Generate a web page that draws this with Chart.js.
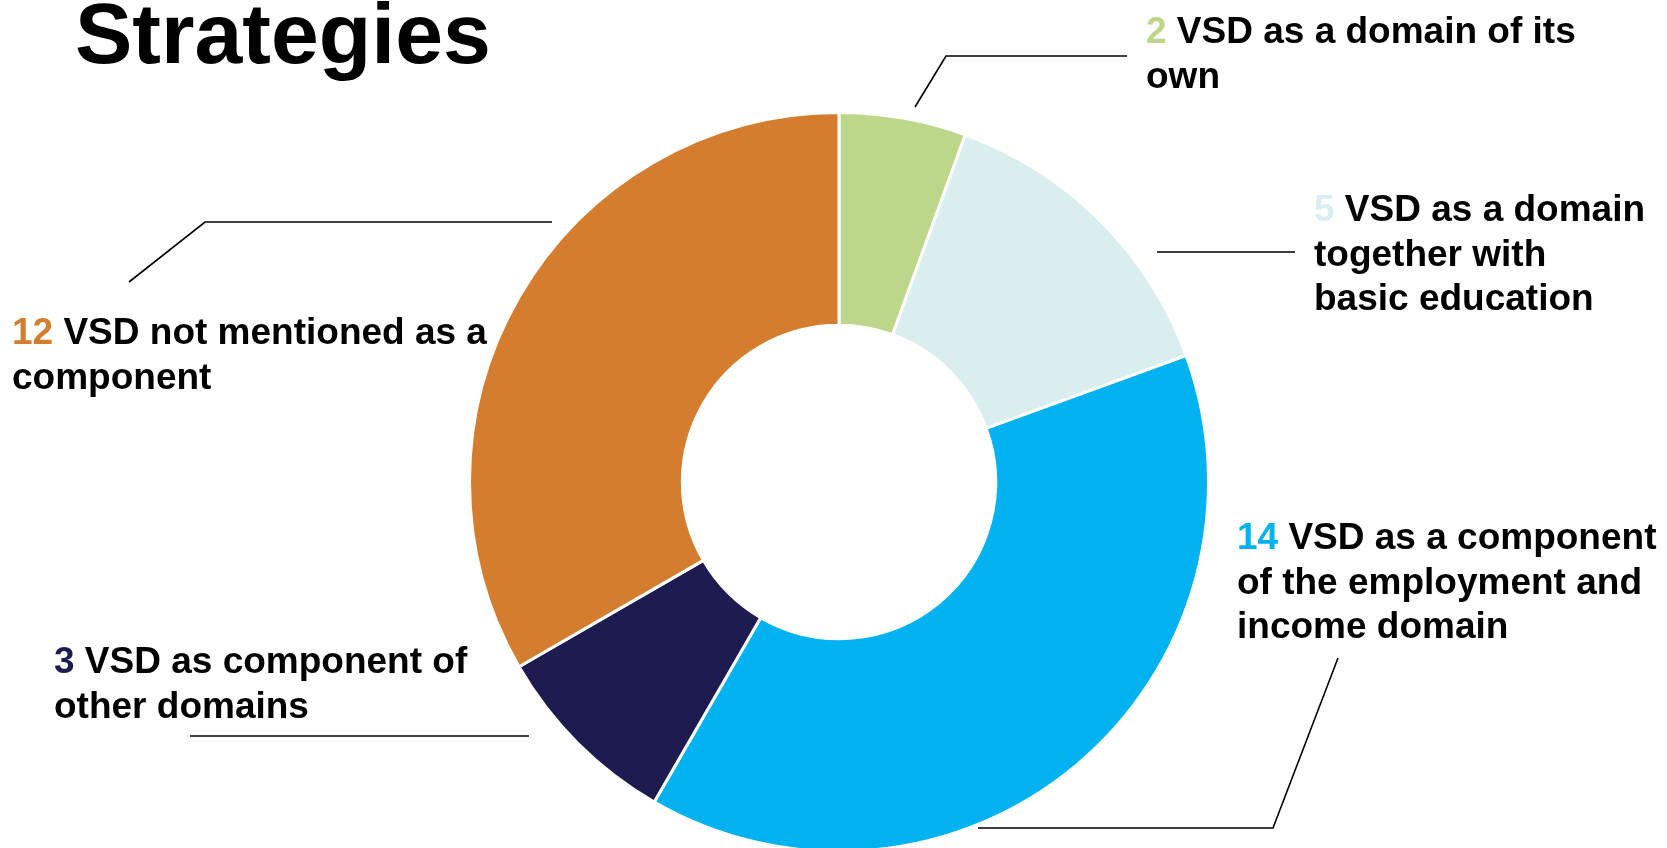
<!DOCTYPE html>
<html>
<head>
<meta charset="utf-8">
<script src="https://cdn.jsdelivr.net/npm/chart.js@4"></script>
<style>
  html, body { margin: 0; padding: 0; background: #fff; overflow: hidden; }
  canvas { display: block; }
</style>
</head>
<body>
<canvas id="canvas" width="1667" height="870"></canvas>
<script>
var categories = [
	[ "VSD as a domain of its", "own" ],
	[ "VSD as a domain", "together with", "basic education" ],
	[ "VSD as a component", "of the employment and", "income domain" ],
	[ "VSD as component of", "other domains" ],
	[ "VSD not mentioned as a", "component" ]
];
var values = [ 2, 5, 14, 3, 12 ];
var sliceColors = [ "#BDD78A", "#DAEEF0", "#00B2F0", "#1E1B50", "#D57D2E" ];

// where each callout sits on the page (layout only)
var labelPos = [
	{ x : 1146, y : 43 },
	{ x : 1314, y : 221 },
	{ x : 1237, y : 549 },
	{ x : 54, y : 673 },
	{ x : 12, y : 344 }
];
var leaders = [
	[ [ 915, 107 ], [ 946, 56 ], [ 1127, 56 ] ],
	[ [ 1157, 252 ], [ 1295, 252 ] ],
	[ [ 1338, 658 ], [ 1273, 828 ], [ 978, 828 ] ],
	[ [ 190, 736 ], [ 529, 736 ] ],
	[ [ 129, 282 ], [ 205, 222 ], [ 552, 222 ] ]
];

var FONT = "bold 37px 'Liberation Sans', Arial, sans-serif";
var LINE_H = 44.5;

var calloutPlugin = {
	id : 'callouts',
	afterDraw : function(chart) {
		var ctx = chart.ctx;
		ctx.save();

		ctx.fillStyle = '#000';
		ctx.font = "bold 86px 'Liberation Sans', Arial, sans-serif";
		ctx.textBaseline = 'alphabetic';
		ctx.textAlign = 'left';
		ctx.fillText('Strategies', 75, 63);

		ctx.strokeStyle = '#000';
		ctx.lineWidth = 1.6;
		leaders.forEach(function(pts) {
			ctx.beginPath();
			ctx.moveTo(pts[0][0], pts[0][1]);
			for (var i = 1; i < pts.length; i++) {
				ctx.lineTo(pts[i][0], pts[i][1]);
			}
			ctx.stroke();
		});

		ctx.font = FONT;
		var data = chart.data.datasets[0].data;
		chart.data.labels.forEach(function(lines, i) {
			var p = labelPos[i];
			var num = String(data[i]) + ' ';
			ctx.fillStyle = sliceColors[i];
			ctx.fillText(num, p.x, p.y);
			ctx.fillStyle = '#000';
			ctx.fillText(lines[0], p.x + ctx.measureText(num).width, p.y);
			for (var k = 1; k < lines.length; k++) {
				ctx.fillText(lines[k], p.x, p.y + k * LINE_H);
			}
		});
		ctx.restore();
	}
};

window.onload = function() {
	var ctx = document.getElementById("canvas").getContext("2d");
	window.myDoughnut = new Chart(ctx, {
		type : 'doughnut',
		data : {
			labels : categories,
			datasets : [ {
				data : values,
				backgroundColor : sliceColors,
				borderColor : '#ffffff',
				borderWidth : 3
			} ]
		},
		options : {
			responsive : false,
			animation : false,
			cutout : '42.4%',
			layout : {
				padding : { left : 468, right : 457, top : 111, bottom : 17 }
			},
			plugins : {
				legend : { display : false },
				tooltip : { enabled : false }
			}
		},
		plugins : [ calloutPlugin ]
	});
};
</script>
</body>
</html>
